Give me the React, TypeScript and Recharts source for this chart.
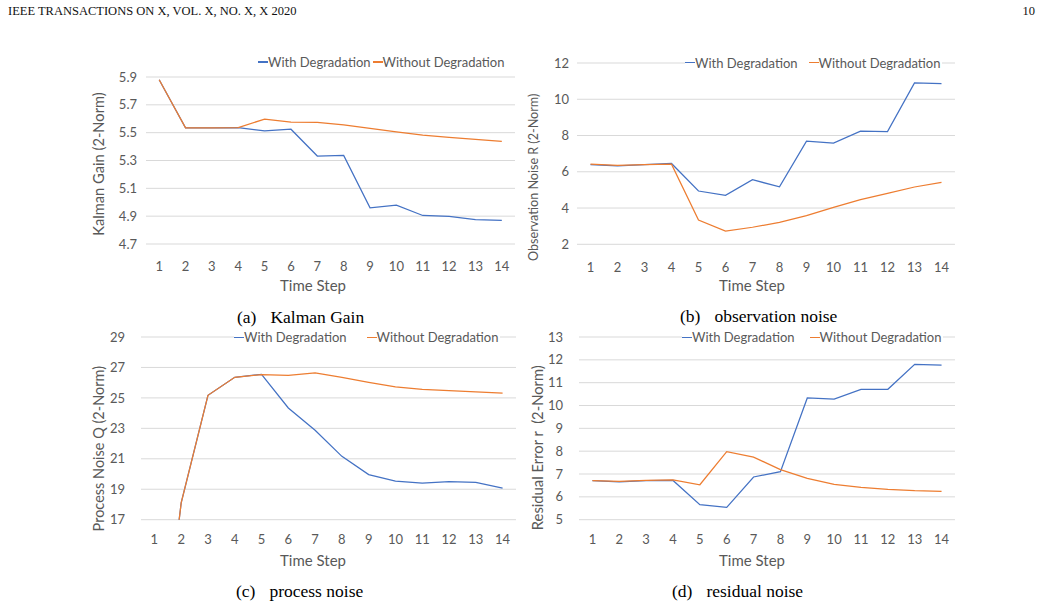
import { LineChart, Line, XAxis, YAxis, CartesianGrid, Label } from 'recharts'

// time steps shared by all four panels
const steps = [1, 2, 3, 4, 5, 6, 7, 8, 9, 10, 11, 12, 13, 14]
const seriesNames = ['With Degradation', 'Without Degradation']
const seriesColors = ['#4472C4', '#ED7D31']

// (a) Kalman gain
const kalmanWith = [5.88, 5.535, 5.535, 5.537, 5.513, 5.525, 5.332, 5.337, 4.96, 4.979, 4.905, 4.898, 4.876, 4.869]
const kalmanWithout = [5.88, 5.535, 5.535, 5.537, 5.597, 5.576, 5.574, 5.556, 5.53, 5.506, 5.482, 5.466, 5.451, 5.437]
const kalmanTicks = [4.7, 4.9, 5.1, 5.3, 5.5, 5.7, 5.9]

// (b) observation noise R
const obsWith = [6.39, 6.33, 6.4, 6.46, 4.94, 4.7, 5.56, 5.17, 7.69, 7.58, 8.24, 8.22, 10.9, 10.86]
const obsWithout = [6.42, 6.35, 6.4, 6.42, 3.34, 2.73, 2.94, 3.21, 3.58, 4.04, 4.46, 4.81, 5.16, 5.41]
const obsTicks = [2, 4, 6, 8, 10, 12]

// (c) process noise Q (first step lies below the axis minimum)
const procWith = [3.5, 18.1, 25.17, 26.35, 26.55, 24.34, 22.87, 21.16, 19.96, 19.54, 19.41, 19.5, 19.45, 19.08]
const procWithout = [3.5, 18.1, 25.17, 26.35, 26.53, 26.48, 26.64, 26.35, 26.02, 25.72, 25.56, 25.47, 25.39, 25.32]
const procTicks = [17, 19, 21, 23, 25, 27, 29]

// (d) residual error r
const resWith = [6.71, 6.66, 6.71, 6.72, 5.66, 5.54, 6.87, 7.1, 10.33, 10.28, 10.71, 10.71, 11.8, 11.77]
const resWithout = [6.71, 6.68, 6.72, 6.74, 6.53, 7.98, 7.74, 7.19, 6.81, 6.55, 6.42, 6.33, 6.27, 6.24]
const resTicks = [5, 6, 7, 8, 9, 10, 11, 12, 13]

const buildRows = (withDeg: number[], withoutDeg: number[]) =>
    steps.map((step, i) => ({ step, with: withDeg[i], without: withoutDeg[i] }))

const FONT = "Lato, 'Open Sans', sans-serif"
const SERIF = "'Liberation Serif', 'Times New Roman', serif"
const GRAY = '#595959'

type PanelProps = {
    plot: { left: number; right: number; top: number; bottom: number }
    rows: { step: number; with: number; without: number }[]
    ticks: number[]
    decimals: number
    yTitle: string
    yTitleSize: number
    yTitleX: number
    yTitleY: number
    xTitleX: number
    xTitleY: number
    yTickGap: number
    xTickGap: number
    legendLeft: number
    legendY: number
    legendGap: number
    clip?: boolean
}

const Panel = (p: PanelProps) => {
    const left = p.plot.left - 60
    const top = p.plot.top - 10
    const width = p.plot.right - left + 5
    const height = p.plot.bottom - top + 55
    const pad = (p.plot.right - p.plot.left) / steps.length / 2

    return (
        <>
            <div style={{ position: 'absolute', left, top, width, height, fontFamily: FONT }}>
                <LineChart
                    width={width}
                    height={height}
                    data={p.rows}
                    margin={{ top: 10, right: 5, left: 0, bottom: 0 }}
                >
                    <CartesianGrid vertical={false} stroke="#d9d9d9" />
                    <XAxis
                        dataKey="step"
                        height={55}
                        padding={{ left: pad, right: pad }}
                        axisLine={false}
                        tickLine={false}
                        tickSize={0}
                        tickMargin={p.xTickGap}
                        interval={0}
                        tick={{ fill: GRAY, fontSize: 13, fontFamily: FONT }}
                    >
                        <Label
                            content={() => (
                                <text
                                    x={p.xTitleX - left}
                                    y={p.xTitleY - top}
                                    textAnchor="middle"
                                    dominantBaseline="central"
                                    fill={GRAY}
                                    fontSize={15}
                                    fontFamily={FONT}
                                >
                                    Time Step
                                </text>
                            )}
                        />
                    </XAxis>
                    <YAxis
                        width={60}
                        domain={[p.ticks[0], p.ticks[p.ticks.length - 1]]}
                        ticks={p.ticks}
                        interval={0}
                        allowDataOverflow={p.clip}
                        axisLine={false}
                        tickLine={false}
                        tickSize={0}
                        tickMargin={p.yTickGap}
                        tickFormatter={(v: number) => v.toFixed(p.decimals)}
                        tick={{ fill: GRAY, fontSize: 13, fontFamily: FONT }}
                    >
                        <Label
                            content={() => {
                                const cx = p.yTitleX - left
                                const cy = p.yTitleY - top
                                return (
                                    <text
                                        x={cx}
                                        y={cy}
                                        transform={`rotate(-90 ${cx} ${cy})`}
                                        textAnchor="middle"
                                        dominantBaseline="central"
                                        fill={GRAY}
                                        fontSize={p.yTitleSize}
                                        fontFamily={FONT}
                                        style={{ whiteSpace: 'pre' }}
                                    >
                                        {p.yTitle}
                                    </text>
                                )
                            }}
                        />
                    </YAxis>
                    <Line
                        type="linear"
                        dataKey="with"
                        name={seriesNames[0]}
                        stroke={seriesColors[0]}
                        strokeWidth={1.25}
                        dot={false}
                        isAnimationActive={false}
                    />
                    <Line
                        type="linear"
                        dataKey="without"
                        name={seriesNames[1]}
                        stroke={seriesColors[1]}
                        strokeWidth={1.25}
                        dot={false}
                        isAnimationActive={false}
                    />
                </LineChart>
            </div>
            <div
                style={{
                    position: 'absolute',
                    left: p.legendLeft,
                    top: p.legendY - 9,
                    height: 18,
                    lineHeight: '18px',
                    display: 'flex',
                    alignItems: 'center',
                    gap: p.legendGap,
                    background: '#fff',
                    paddingRight: 2,
                    fontFamily: FONT,
                    fontSize: 13,
                    color: GRAY,
                    whiteSpace: 'nowrap',
                }}
            >
                {seriesNames.map((name, i) => (
                    <span key={name} style={{ display: 'flex', alignItems: 'center' }}>
                        <span style={{ display: 'inline-block', width: 10, height: 1.25, background: seriesColors[i] }} />
                        <span>{name}</span>
                    </span>
                ))}
            </div>
        </>
    )
}

const Caption = ({ left, y, tag, text }: { left: number; y: number; tag: string; text: string }) => (
    <div
        style={{
            position: 'absolute',
            left,
            top: y - 11,
            lineHeight: '22px',
            fontFamily: SERIF,
            fontSize: 17.5,
            color: '#000',
            whiteSpace: 'nowrap',
        }}
    >
        <span>{tag}</span>
        <span style={{ marginLeft: 14 }}>{text}</span>
    </div>
)

export default function App() {
    return (
        <div style={{ position: 'absolute', left: 0, top: 0, width: 1041, height: 606, background: '#fff', overflow: 'hidden' }}>
            <div style={{ position: 'absolute', left: 8, top: 3, lineHeight: '16px', fontFamily: SERIF, fontSize: 12.5, color: '#111' }}>
                IEEE TRANSACTIONS ON X, VOL. X, NO. X, X 2020
            </div>
            <div style={{ position: 'absolute', right: 6, top: 3, lineHeight: '16px', fontFamily: SERIF, fontSize: 12.5, color: '#111' }}>
                10
            </div>

            <Panel
                plot={{ left: 146, right: 515, top: 77, bottom: 244 }}
                rows={buildRows(kalmanWith, kalmanWithout)}
                ticks={kalmanTicks}
                decimals={1}
                yTitle="Kalman Gain (2-Norm)"
                yTitleSize={14.7}
                yTitleX={98}
                yTitleY={164}
                xTitleX={313}
                xTitleY={285}
                yTickGap={9}
                xTickGap={18}
                legendLeft={258}
                legendY={62}
                legendGap={2}
            />
            <Panel
                plot={{ left: 577, right: 955, top: 62.7, bottom: 244 }}
                rows={buildRows(obsWith, obsWithout)}
                ticks={obsTicks}
                decimals={0}
                yTitle="Observation Noise R (2-Norm)"
                yTitleSize={12.6}
                yTitleX={533}
                yTitleY={177}
                xTitleX={752}
                xTitleY={285}
                yTickGap={8}
                xTickGap={18.5}
                legendLeft={685}
                legendY={62.7}
                legendGap={11}
            />
            <Panel
                plot={{ left: 141, right: 516, top: 337.3, bottom: 520 }}
                rows={buildRows(procWith, procWithout)}
                ticks={procTicks}
                decimals={0}
                yTitle="Process Noise Q (2-Norm)"
                yTitleSize={14.5}
                yTitleX={98}
                yTitleY={449}
                xTitleX={313}
                xTitleY={560}
                yTickGap={16}
                xTickGap={15.5}
                legendLeft={234}
                legendY={337.3}
                legendGap={20}
                clip
            />
            <Panel
                plot={{ left: 579, right: 955, top: 337.3, bottom: 520 }}
                rows={buildRows(resWith, resWithout)}
                ticks={resTicks}
                decimals={0}
                yTitle="Residual Error r  (2-Norm)"
                yTitleSize={14.8}
                yTitleX={537}
                yTitleY={448}
                xTitleX={752}
                xTitleY={560}
                yTickGap={16}
                xTickGap={15.5}
                legendLeft={682}
                legendY={337.3}
                legendGap={15}
            />

            <Caption left={237} y={317} tag="(a)" text="Kalman Gain" />
            <Caption left={680} y={316} tag="(b)" text="observation noise" />
            <Caption left={236} y={591} tag="(c)" text="process noise" />
            <Caption left={672} y={591} tag="(d)" text="residual noise" />
        </div>
    )
}
